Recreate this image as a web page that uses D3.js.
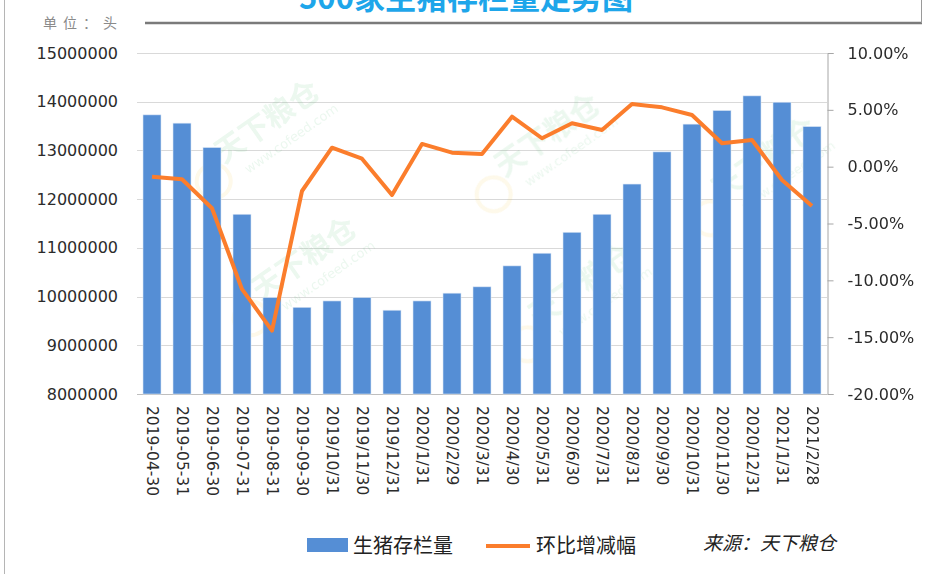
<!DOCTYPE html>
<html>
<head>
<meta charset="utf-8">
<script src="https://cdn.jsdelivr.net/npm/d3@7"></script>
<style>
  body { margin: 0; background: #fff; }
  svg text { font-family: "DejaVu Sans", Verdana, sans-serif; }
</style>
</head>
<body>
<div id="chart"></div>
<script>
// data
let dates = ["2019-04-30", "2019-05-31", "2019-06-30", "2019-07-31", "2019-08-31", "2019-09-30",
  "2019/10/31", "2019/11/30", "2019/12/31", "2020/1/31", "2020/2/29", "2020/3/31", "2020/4/30",
  "2020/5/31", "2020/6/30", "2020/7/31", "2020/8/31", "2020/9/30", "2020/10/31", "2020/11/30",
  "2020/12/31", "2021/1/31", "2021/2/28"];
let stock = [13730000, 13560000, 13060000, 11690000, 9980000, 9780000, 9910000, 9980000, 9720000,
  9910000, 10070000, 10200000, 10630000, 10890000, 11320000, 11690000, 12310000, 12970000,
  13540000, 13820000, 14120000, 13990000, 13490000];
let change = [-0.88, -1.11, -3.66, -10.78, -14.42, -2.14, 1.67, 0.70, -2.49, 2.00, 1.23, 1.12,
  4.40, 2.50, 3.82, 3.23, 5.51, 5.22, 4.55, 2.06, 2.35, -1.17, -3.46];
let leftTicks = [8000000, 9000000, 10000000, 11000000, 12000000, 13000000, 14000000, 15000000];
let rightTicks = [-20, -15, -10, -5, 0, 5, 10];

let width = 925, height = 574;
let margin = {top: 53, right: 98, bottom: 180, left: 137};

let svg = d3.select("#chart")
  .append("svg")
  .attr("width", width)
  .attr("height", height);

// left border + title box
svg.append("line").attr("x1", 4.5).attr("x2", 4.5).attr("y1", 0).attr("y2", height)
  .attr("stroke", "#b5b5b5").attr("stroke-width", 1);
svg.append("line").attr("x1", 145).attr("x2", 922).attr("y1", 23).attr("y2", 23)
  .attr("stroke", "#7a7a7a").attr("stroke-width", 2.5);
svg.append("line").attr("x1", 921.5).attr("x2", 921.5).attr("y1", 0).attr("y2", 23)
  .attr("stroke", "#9a9a9a").attr("stroke-width", 1);

// title, cut at the top as in the source image
svg.append("text")
  .attr("x", 466).attr("y", 9)
  .attr("text-anchor", "middle")
  .style("font-family", "'Noto Sans CJK SC', sans-serif")
  .style("font-weight", "bold")
  .style("font-size", "31px")
  .attr("fill", "#1ea6ea")
  .text("500家生猪存栏量走势图");

svg.append("text")
  .attr("x", 43).attr("y", 28)
  .style("font-family", "'Noto Sans CJK SC', sans-serif")
  .style("font-size", "14px")
  .style("letter-spacing", "6px")
  .attr("fill", "#8a8a8a")
  .text("单位：头");

// scales
let x = d3.scaleBand()
  .domain(dates)
  .range([margin.left, width - margin.right])
  .paddingInner(0.4)
  .paddingOuter(0.2);

let yL = d3.scaleLinear()
  .domain([8000000, 15000000])
  .range([394, margin.top]);

let yR = d3.scaleLinear()
  .domain([-20, 10])
  .range([394, margin.top]);

// gridlines
svg.append("g")
  .selectAll("line")
  .data(leftTicks)
  .enter()
  .append("line")
  .attr("x1", margin.left)
  .attr("x2", width - margin.right)
  .attr("y1", d => Math.round(yL(d)) + 0.5)
  .attr("y2", d => Math.round(yL(d)) + 0.5)
  .attr("stroke", d => d === 8000000 ? "#bfbfbf" : "#d9d9d9")
  .attr("stroke-width", 1);

// watermarks (very faint)
let marks = [[273, 130], [310, 267], [553, 143], [587, 293], [770, 167]];
let wm = svg.append("g").style("opacity", 0.12);
marks.forEach(function (m) {
  let g = wm.append("g").attr("transform", `translate(${m[0]},${m[1]}) rotate(-35)`);
  g.append("circle").attr("cx", -78).attr("cy", 8).attr("r", 17)
    .attr("fill", "none").attr("stroke", "#f2c94c").attr("stroke-width", 4);
  g.append("text")
    .attr("x", 0).attr("y", 0)
    .attr("text-anchor", "middle")
    .style("font-family", "'Noto Sans CJK SC', sans-serif")
    .style("font-weight", "bold")
    .style("font-size", "30px")
    .attr("fill", "#5cbf7a")
    .text("天下粮仓");
  g.append("text")
    .attr("x", 10).attr("y", 22)
    .attr("text-anchor", "middle")
    .style("font-size", "13px")
    .attr("fill", "#5cbf7a")
    .text("www.cofeed.com");
});

// bars
svg.append("g")
  .selectAll("rect")
  .data(stock)
  .enter()
  .append("rect")
  .attr("x", (d, i) => x(dates[i]))
  .attr("y", d => yL(d))
  .attr("width", x.bandwidth())
  .attr("height", d => yL(8000000) - yL(d))
  .attr("fill", "#558ed5")
  .attr("stroke", "#dbe6f5")
  .attr("stroke-width", 0.6);

// line
let line = d3.line()
  .x((d, i) => x(dates[i]) + x.bandwidth() / 2)
  .y(d => yR(d));

svg.append("path")
  .datum(change)
  .attr("d", line)
  .attr("fill", "none")
  .attr("stroke", "#fb7d2c")
  .attr("stroke-width", 4)
  .attr("stroke-linejoin", "round");

// left axis
let axL = svg.append("g")
  .attr("transform", `translate(${margin.left},0)`)
  .call(d3.axisLeft(yL).tickValues(leftTicks).tickSize(0).tickPadding(19).tickFormat(d3.format("d")));
axL.select(".domain").remove();
axL.selectAll("text").style("font-size", "16px").attr("fill", "#2b2b2b");

// right axis
let axR = svg.append("g")
  .attr("transform", `translate(${width - margin.right + 0.5},0)`)
  .call(d3.axisRight(yR).tickValues(rightTicks).tickSize(6).tickPadding(14)
    .tickFormat(d => d.toFixed(2) + "%"));
axR.select(".domain").attr("stroke", "#a6a6a6");
axR.selectAll(".tick line").attr("stroke", "#a6a6a6");
axR.selectAll("text").style("font-size", "16px").attr("fill", "#2b2b2b");

// bottom axis labels, rotated
let axB = svg.append("g")
  .attr("transform", "translate(0,394)")
  .call(d3.axisBottom(x).tickSize(0).tickPadding(0));
axB.select(".domain").remove();
axB.selectAll("text")
  .attr("y", 0)
  .attr("x", 0)
  .attr("dy", "0.35em")
  .attr("transform", "translate(0,12) rotate(90)")
  .style("text-anchor", "start")
  .style("font-size", "15.5px")
  .attr("fill", "#2b2b2b");

// legend
let legend = svg.append("g");
legend.append("rect").attr("x", 307).attr("y", 538).attr("width", 41).attr("height", 14)
  .attr("fill", "#558ed5");
legend.append("text").attr("x", 353).attr("y", 553)
  .style("font-family", "'Noto Sans CJK SC', sans-serif").style("font-size", "20px")
  .attr("fill", "#222").text("生猪存栏量");
legend.append("line").attr("x1", 486).attr("x2", 530).attr("y1", 546).attr("y2", 546)
  .attr("stroke", "#fb7d2c").attr("stroke-width", 4);
legend.append("text").attr("x", 536).attr("y", 553)
  .style("font-family", "'Noto Sans CJK SC', sans-serif").style("font-size", "20px")
  .attr("fill", "#222").text("环比增减幅");
legend.append("text").attr("x", 703).attr("y", 550)
  .style("font-family", "'Noto Sans CJK SC', sans-serif").style("font-size", "19px")
  .style("font-style", "italic")
  .attr("fill", "#222").text("来源：天下粮仓");
</script>
</body>
</html>
